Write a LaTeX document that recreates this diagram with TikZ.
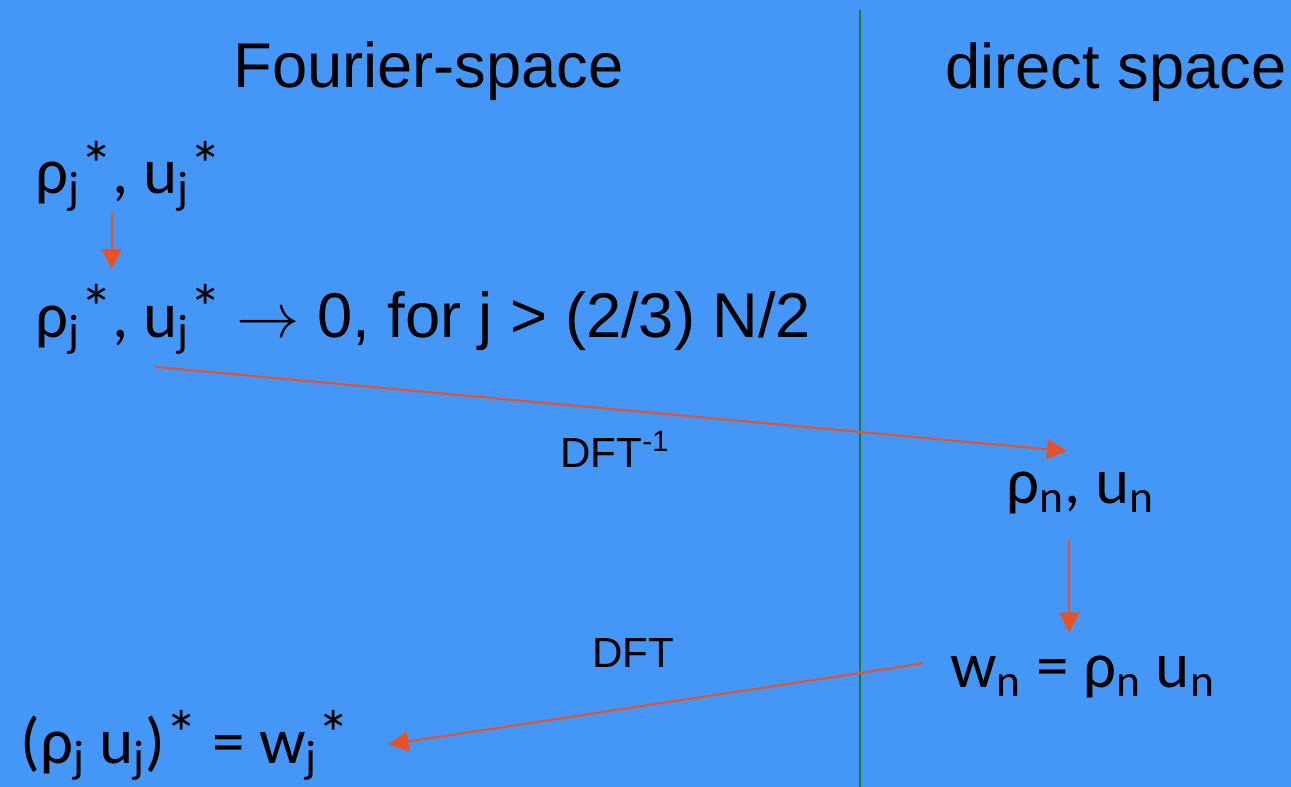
\RequirePackage{fix-cm}
\documentclass[tikz,border=0pt]{standalone}
\usepackage{fontspec}
\setmainfont{Liberation Sans}
\newfontfamily\calfont{Carlito}
\usetikzlibrary{arrows.meta,calc}
\definecolor{slidebg}{RGB}{69,151,247}
\definecolor{flowred}{RGB}{232,82,40}
\definecolor{divgreen}{RGB}{40,120,45}
\newcommand{\low}[1]{\textsubscript{#1}}
\newcommand{\conjmark}{\raisebox{0.1em}{*}}
\tikzset{
  flow/.style={draw=flowred, line width=0.04cm, -{Triangle[length=0.4cm,width=0.4cm]}},
  head/.style={anchor=base west, inner sep=0pt, font=\fontsize{36}{40}\selectfont},
  eq/.style={anchor=base west, inner sep=0pt, font=\calfont\fontsize{37}{42}\selectfont},
  tag/.style={anchor=base west, inner sep=0pt, font=\fontsize{24}{28}\selectfont},
}
\begin{document}
\begin{tikzpicture}[x=0.02cm,y=-0.02cm]
\fill[slidebg] (0,0) rectangle (1291,787);
\useasboundingbox (0,0) rectangle (1291,787);
\draw[divgreen, line width=0.04cm] (860,10) -- (860,787);
\node[head] (fourier) at (233,88) {Fourier-space};
\node[head] (direct) at (945,89) {direct space};
\node[eq] (fstar) at (35,194) {ρ\low{j}\conjmark, u\low{j}\conjmark};
\node[eq] (fcut) at (35,337) {ρ\low{j}\conjmark, u\low{j}\conjmark{} {\normalfont\fontsize{36}{40}\selectfont$\rightarrow$ 0, for j > (2/3) N/2}};
\node[eq] (rn) at (1006,503) {ρ\low{n}, u\low{n}};
\node[eq] (wn) at (950,687) {w\low{n} = ρ\low{n} u\low{n}};
\node[eq] (wj) at (20,763) {(ρ\low{j} u\low{j})\conjmark{} = w\low{j}\conjmark};
\node[tag] (dftinv) at (560,467) {DFT\textsuperscript{-1}};
\node[tag] (dft) at (592,667) {DFT};
\coordinate (s1) at ($(fstar.south)+(-17,0)$);
\draw[flow, shorten >=0.3cm] (s1) -- (s1 |- fcut.north);
\draw[flow] ($(fcut.south west)+(120,12)$) -- ($(rn.north west)+(61,-20)$);
\coordinate (s3) at ($(rn.south)+(-11,25)$);
\draw[flow, shorten >=0.45cm] (s3) -- (s3 |- wn.north);
\draw[flow] ($(wn.west)+(-27,-13)$) -- ($(wj.east)+(38,-1)$);
\end{tikzpicture}
\end{document}
